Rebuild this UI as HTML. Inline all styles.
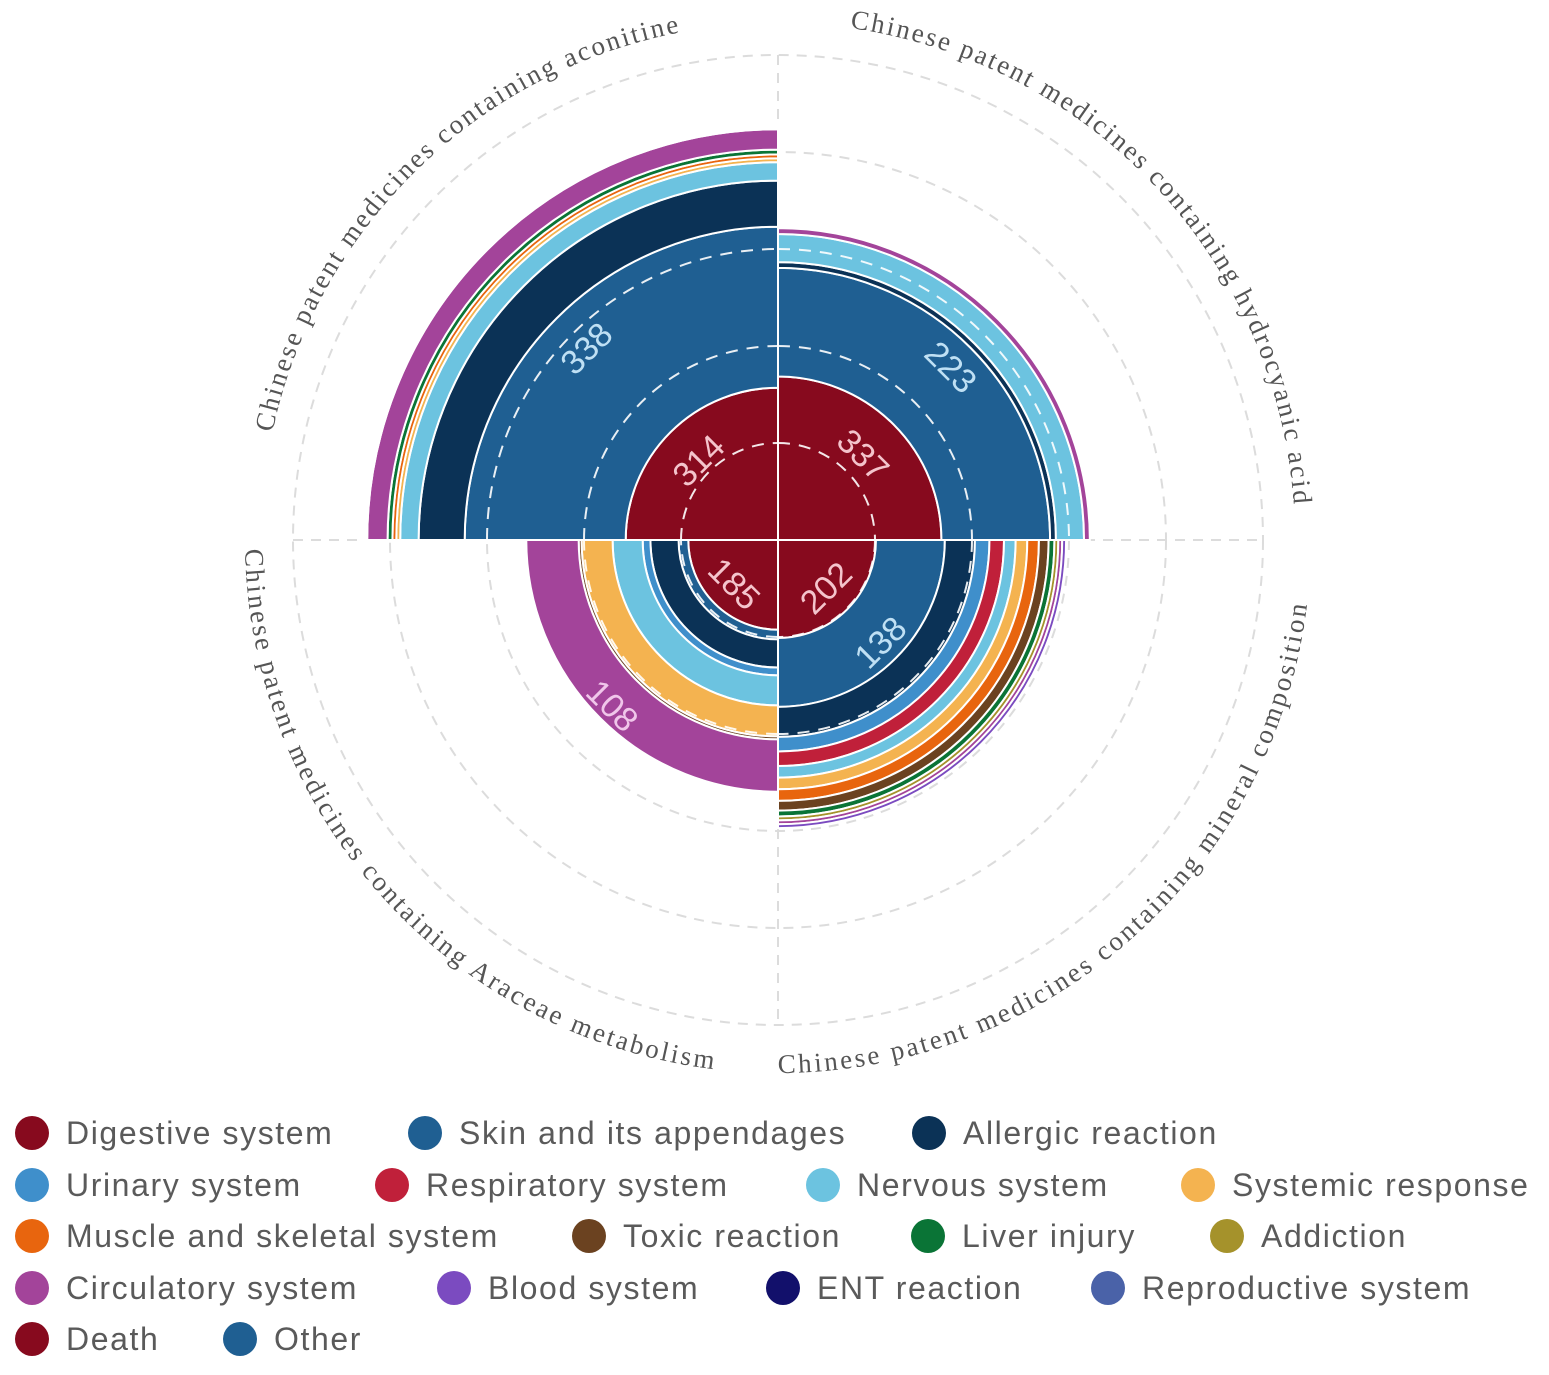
<!DOCTYPE html>
<html><head><meta charset="utf-8">
<style>
html,body{margin:0;padding:0;background:#fff;}
body{width:1549px;height:1375px;position:relative;overflow:hidden;font-family:"Liberation Sans",sans-serif;}
.leg{position:absolute;display:flex;align-items:center;height:40px;font-size:32px;letter-spacing:1.6px;color:#5a5a5a;white-space:nowrap;}
.leg i{display:inline-block;width:34px;height:34px;border-radius:50%;margin-right:17px;}
</style></head>
<body>
<svg id="chart" width="1549" height="1090" style="position:absolute;left:0;top:0"></svg>
<div id="legend"></div>
<script>
const categories = ["Chinese patent medicines containing aconitine","Chinese patent medicines containing hydrocyanic acid","Chinese patent medicines containing mineral composition","Chinese patent medicines containing Araceae metabolism"];
const seriesNames = ["Digestive system","Skin and its appendages","Allergic reaction","Urinary system","Respiratory system","Nervous system","Systemic response","Muscle and skeletal system","Toxic reaction","Liver injury","Addiction","Circulatory system","Blood system","ENT reaction","Reproductive system","Death","Other"];
const digestive = [314,337,202,185];
const skin = [332,224,142,20];
const allergic = [95,12,62,58];
const urinary = [0,0,30,16];
const respiratory = [0,0,30,0];
const nervous = [38,58,24,62];
const systemic = [8,0,24,64];
const muscle = [8,0,24,0];
const toxic = [0,0,20,6];
const liver = [10,0,12,0];
const addiction = [0,0,8,0];
const circulatory = [42,12,8,108];
const blood = [3,0,8,0];
const ent = [3,0,0,0];
const reproductive = [3,0,0,0];
const death = [0,0,0,0];
const other = [0,0,0,0];
const labelValues = [[314,338],[337,223],[202,138],[185,108]];
const radialTicks = [200,400,600,800,1000];

const colors = ["#870a1e","#1f5f92","#0b3256","#3f8fcb","#c0203a","#6cc3e0","#f4b350","#e8650e","#6b4220","#0a7436","#a5922b","#a3449a","#7b4bc0","#12106b","#4a62a8","#870a1e","#1f5f92"];
const seriesData = [digestive,skin,allergic,urinary,respiratory,nervous,systemic,muscle,toxic,liver,addiction,circulatory,blood,ent,reproductive,death,other];

const NS="http://www.w3.org/2000/svg";
const svg=document.getElementById('chart');
const cx=778, cy=540;
const rScale=v=>v*0.485;
const quadStart=[180,270,0,90];
const aRad=d=>d*Math.PI/180;
function mk(tag,attrs,parent){const e=document.createElementNS(NS,tag);for(const k in attrs)e.setAttribute(k,attrs[k]);(parent||svg).appendChild(e);return e;}
function pt(r,a){return [cx+r*Math.cos(aRad(a)),cy+r*Math.sin(aRad(a))];}
function sector(r0,r1,a0,a1){const p1=pt(r1,a0),p2=pt(r1,a1),p3=pt(r0,a1),p4=pt(r0,a0);
 return `M${p1[0]},${p1[1]} A${r1},${r1} 0 0 1 ${p2[0]},${p2[1]} L${p3[0]},${p3[1]} A${r0},${r0} 0 0 0 ${p4[0]},${p4[1]} Z`;}

const grid=mk('g',{});


radialTicks.forEach(t=>{const c=mk('circle',{cx:cx,cy:cy,r:rScale(t),fill:'none',stroke:'#dcdcdc','stroke-width':2,'stroke-dasharray':'10 8'},grid);
 
 });
const R=rScale(1000);
[[cx-R,cy,cx+R,cy],[cx,cy-R,cx,cy+R]].forEach(l=>{const ln=mk('line',{x1:l[0],y1:l[1],x2:l[2],y2:l[3],stroke:'#dcdcdc','stroke-width':2,'stroke-dasharray':'10 8'},grid);
 
 });

const bars=mk('g',{});


const totals=[0,0,0,0];
categories.forEach((cat,q)=>{
 let cum=0;
 seriesData.forEach((arr,s)=>{
  const v=arr[q]; if(!v) return;
  const r0=rScale(cum), r1=rScale(cum+v);
  const p=mk('path',{d:sector(r0,r1,quadStart[q],quadStart[q]+90),fill:colors[s],stroke:'#fff','stroke-width':2},bars);
  
  
  cum+=v;
 });
 totals[q]=cum;
});
categories.forEach((cat,q)=>{
 [200,400,600].forEach(t=>{const r=rScale(t); if(r>=rScale(totals[q])-4) return;
  const a=pt(r,quadStart[q]), b=pt(r,quadStart[q]+90);
  const d=mk('path',{d:`M${a[0]},${a[1]} A${r},${r} 0 0 1 ${b[0]},${b[1]}`,fill:'none',stroke:'#fff','stroke-width':2,'stroke-dasharray':'12 9',opacity:0.9},bars);
  
  });
});
categories.forEach((cat,q)=>{
 const mid=quadStart[q]+45;
 let cum=0;
 [0,1].forEach(k=>{
  let s=k; let v=labelValues[q][k];
  let start, end;
  if(q===3 && k===1){
   let c2=0; for(let i=0;i<11;i++) c2+=seriesData[i][q]; start=c2; end=c2+circulatory[q]; s=11;
  } else { start=cum; end=cum+seriesData[k][q]; cum=end; }
  const r=rScale(start)+0.72*(rScale(end)-rScale(start));
  const p=pt(r,mid);
  const rot=(q<2)?mid-270:mid-90;
  const t=mk('text',{x:p[0],y:p[1],'text-anchor':'middle','dominant-baseline':'middle','font-size':34,fill:s===0?'#f4c4cc':(s===11?'#f0c6ea':'#bfe0f4'),transform:`rotate(${rot} ${p[0]} ${p[1]})`,'font-family':'"Liberation Sans",sans-serif'},svg);
  t.textContent=v;
  
  
 });
});
const defs=mk('defs',{});
const catArcs=[[192,259,false],[278,356,false],[90,7,true],[179,97,true]];
categories.forEach((cat,q)=>{
 const [a0,a1,ccw]=catArcs[q];
 const r=ccw?533:517;
 const p0=pt(r,a0),p1=pt(r,a1);
 mk('path',{id:'arc'+q,d:`M${p0[0]},${p0[1]} A${r},${r} 0 0 ${ccw?0:1} ${p1[0]},${p1[1]}`,fill:'none'},defs);
 const len=r*Math.abs(a1-a0)*Math.PI/180;
 const t=mk('text',{'font-size':27,fill:'#555','font-family':'"Liberation Serif",serif'},svg);
 
 
 const tp=mk('textPath',{href:'#arc'+q,textLength:len,lengthAdjust:'spacing'},t);
 tp.textContent=cat;
});

const legPos=[[32,1133],[425,1133],[929,1133],[32,1185],[392,1185],[823,1185],[1198,1185],[32,1236],[589,1236],[928,1236],[1227,1236],[32,1288],[454,1288],[783,1288],[1108,1288],[32,1339],[240,1339]];
const lg=document.getElementById('legend');
seriesNames.forEach((n,i)=>{
 const d=document.createElement('div');
 d.className='leg';
 d.style.left=(legPos[i][0]-17)+'px';
 d.style.top=(legPos[i][1]-20)+'px';
 
 
 d.innerHTML='<i style="background:'+colors[i]+'"></i><span>'+n+'</span>';
 lg.appendChild(d);
});
</script>
</body></html>
